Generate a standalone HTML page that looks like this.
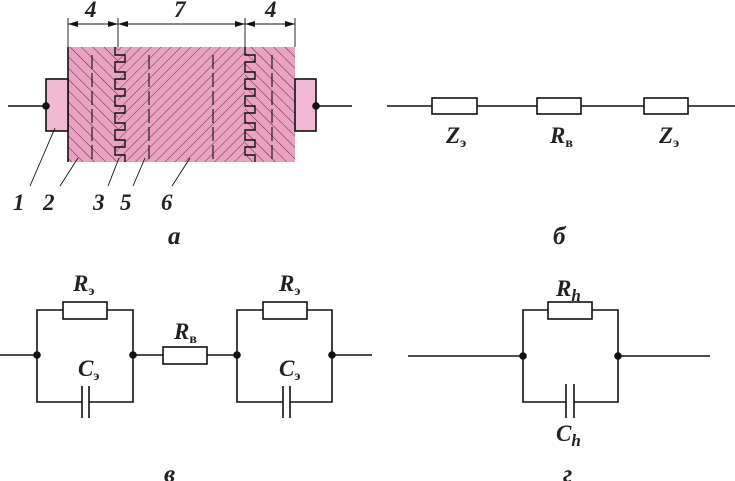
<!DOCTYPE html>
<html><head><meta charset="utf-8"><style>
html,body{margin:0;padding:0;background:#fff;}
svg{display:block;}
text{font-family:"Liberation Serif",serif;font-style:italic;font-weight:bold;fill:#222;}
.s{font-style:normal;font-weight:bold;}
</style></head><body>
<svg width="735" height="481" viewBox="0 0 735 481" xmlns="http://www.w3.org/2000/svg">
<defs>
<pattern id="hb" width="8" height="8" patternUnits="userSpaceOnUse" patternTransform="rotate(-45)">
<line x1="0" y1="0" x2="0" y2="8" stroke="#6a2045" stroke-width="1"/></pattern>
<pattern id="hf" width="7" height="7" patternUnits="userSpaceOnUse" patternTransform="rotate(45)">
<line x1="0" y1="0" x2="0" y2="7" stroke="#6a2045" stroke-width="0.9"/></pattern>
</defs>
<g stroke="#111" fill="none" stroke-width="1.6">
<rect x="68" y="47" width="227" height="115" fill="#eaa2c2" stroke="none"/>
<rect x="68" y="47" width="50" height="115" fill="url(#hb)" stroke="none"/>
<rect x="118" y="47" width="127" height="115" fill="url(#hf)" stroke="none"/>
<rect x="245" y="47" width="50" height="115" fill="url(#hb)" stroke="none"/>
<line x1="68" y1="47" x2="68" y2="162"/>
<rect x="46" y="79" width="22" height="52" fill="#f1b9d3"/>
<rect x="295" y="79" width="21" height="52" fill="#f1b9d3"/>
<line x1="8" y1="106" x2="46" y2="106"/>
<line x1="316" y1="106" x2="352" y2="106"/>
<circle cx="46" cy="106" r="3" fill="#111"/>
<circle cx="316" cy="106" r="3" fill="#111"/>
<path d="M115 47 V55 H125 V62 H115 V72 H125 V79 H115 V89 H125 V96 H115 V106 H125 V113 H115 V123 H125 V130 H115 V140 H125 V147 H115 V155 H125 V162" stroke-width="1.4"/>
<path d="M245 47 V55 H255 V62 H245 V72 H255 V79 H245 V89 H255 V96 H245 V106 H255 V113 H245 V123 H255 V130 H245 V140 H255 V147 H245 V155 H255 V162" stroke-width="1.4"/>
<g stroke-dasharray="14,4" stroke-width="1.1">
<line x1="92" y1="55" x2="92" y2="162"/><line x1="149" y1="55" x2="149" y2="162"/>
<line x1="213" y1="55" x2="213" y2="162"/><line x1="272" y1="55" x2="272" y2="162"/>
</g>
<g stroke-width="0.9">
<line x1="68" y1="18" x2="68" y2="47"/><line x1="118" y1="18" x2="118" y2="47"/>
<line x1="245" y1="18" x2="245" y2="47"/><line x1="295" y1="18" x2="295" y2="47"/>
<line x1="68" y1="24" x2="295" y2="24"/>
<line x1="30" y1="186" x2="55" y2="128"/><line x1="60" y1="186" x2="78" y2="158"/>
<line x1="108" y1="186" x2="119" y2="158"/><line x1="133" y1="186" x2="145" y2="158"/>
<line x1="172" y1="186" x2="190" y2="158"/>
</g>
<g fill="#111" stroke="none">
<path d="M68 24 l10 -3 v6z M118 24 l-10 -3 v6z M118 24 l10 -3 v6z M245 24 l-10 -3 v6z M245 24 l10 -3 v6z M295 24 l-10 -3 v6z"/>
</g>
<line x1="387" y1="106" x2="735" y2="106"/>
<rect x="432" y="98" width="45" height="16" fill="#fff"/>
<rect x="537" y="98" width="44" height="16" fill="#fff"/>
<rect x="644" y="98" width="44" height="16" fill="#fff"/>
<line x1="0" y1="355" x2="37" y2="355"/><line x1="133" y1="355" x2="237" y2="355"/><line x1="332" y1="355" x2="372" y2="355"/>
<path d="M37 355 V310 H133 V355 M37 355 V402 H82 M89 402 H133 V355"/>
<path d="M237 355 V310 H332 V355 M237 355 V402 H283 M290 402 H332 V355"/>
<rect x="63" y="302" width="44" height="17" fill="#fff"/>
<rect x="163" y="347" width="44" height="17" fill="#fff"/>
<rect x="263" y="302" width="44" height="17" fill="#fff"/>
<line x1="82" y1="386" x2="82" y2="418"/><line x1="89" y1="386" x2="89" y2="418"/>
<line x1="283" y1="386" x2="283" y2="418"/><line x1="290" y1="386" x2="290" y2="418"/>
<g fill="#111"><circle cx="37" cy="355" r="3"/><circle cx="133" cy="355" r="3"/><circle cx="237" cy="355" r="3"/><circle cx="332" cy="355" r="3"/></g>
<line x1="408" y1="356" x2="523" y2="356"/><line x1="618" y1="356" x2="710" y2="356"/>
<path d="M523 356 V310 H618 V356 M523 356 V402 H566 M574 402 H618 V356"/>
<rect x="548" y="302" width="44" height="17" fill="#fff"/>
<line x1="566" y1="384" x2="566" y2="418"/><line x1="574" y1="384" x2="574" y2="418"/>
<g fill="#111"><circle cx="523" cy="356" r="3"/><circle cx="618" cy="356" r="3"/></g>
</g>
<g font-size="23">
<text x="85" y="17">4</text><text x="174" y="17">7</text><text x="265" y="17">4</text>
<text x="13" y="210">1</text><text x="43" y="210">2</text><text x="93" y="210">3</text>
<text x="120" y="210">5</text><text x="161" y="210">6</text>
<text x="168" y="244" font-size="25">а</text>
<text x="553" y="244" font-size="25">б</text>
<text x="446" y="143">Z<tspan class="s" font-size="14" dy="4">э</tspan></text>
<text x="550" y="143">R<tspan class="s" font-size="14" dy="4">в</tspan></text>
<text x="659" y="143">Z<tspan class="s" font-size="14" dy="4">э</tspan></text>
<text x="73" y="291">R<tspan class="s" font-size="14" dy="4">э</tspan></text>
<text x="78" y="376">C<tspan class="s" font-size="14" dy="4">э</tspan></text>
<text x="174" y="339">R<tspan class="s" font-size="14" dy="4">в</tspan></text>
<text x="279" y="291">R<tspan class="s" font-size="14" dy="4">э</tspan></text>
<text x="279" y="376">C<tspan class="s" font-size="14" dy="4">э</tspan></text>
<text x="164" y="482" font-size="25">в</text>
<text x="556" y="296">R<tspan font-size="17" dy="5">h</tspan></text>
<text x="556" y="441">C<tspan font-size="17" dy="5">h</tspan></text>
<text x="563" y="482" font-size="25">г</text>
</g>
</svg>
</body></html>
